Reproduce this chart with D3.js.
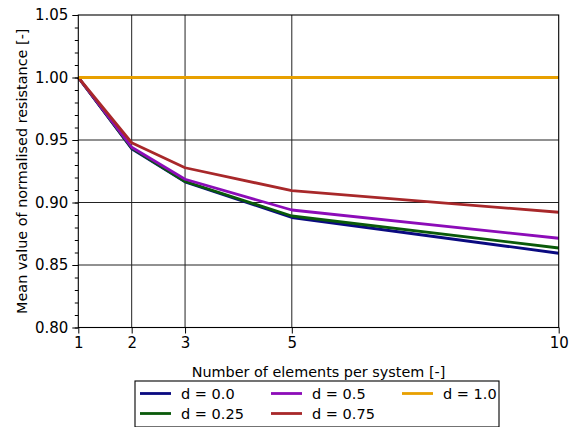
<!DOCTYPE html>
<html>
<head>
<meta charset="utf-8">
<style>
    body { margin: 0; background: #fff; }
    text { font-family: "DejaVu Sans", sans-serif; fill: #000; }
    .grid line { stroke: #222; stroke-width: 1 }
    .series { fill: none; stroke-width: 2.8; stroke-linejoin: round }
</style>
</head>
<body>
<svg id="chart" width="570" height="427"></svg>
<script src="https://cdn.jsdelivr.net/npm/d3@7"></script>
<script>
// data
let elements = [1, 2, 3, 5, 10]
let d00 = [1.0, 0.943, 0.9165, 0.888, 0.8594]
let d025 = [1.0, 0.9435, 0.9168, 0.8892, 0.8636]
let d05 = [1.0, 0.9442, 0.9186, 0.894, 0.8714]
let d075 = [1.0, 0.9478, 0.9278, 0.9095, 0.8922]
let d10 = [1.0, 1.0, 1.0, 1.0, 1.0]
let labels = ["d = 0.0", "d = 0.25", "d = 0.5", "d = 0.75", "d = 1.0"]
let colors = ["#0a0a80", "#0a5a0a", "#8c0cb8", "#a8282a", "#e8a000"]
let yTicks = [0.80, 0.85, 0.90, 0.95, 1.00, 1.05]

let allSeries = [d00, d025, d05, d075, d10]

let svg = d3.select("#chart")
let plotLeft = 78.3, plotRight = 558.7, plotTop = 15, plotBottom = 327.5

let x = d3.scaleLinear().domain([1, 10]).range([plotLeft, plotRight])
let y = d3.scaleLinear().domain([0.80, 1.05]).range([plotBottom, plotTop])

// grid
let grid = svg.append("g").attr("class", "grid")
grid.selectAll(".vx").data(elements.slice(1, -1)).enter().append("line")
    .attr("x1", d => x(d)).attr("x2", d => x(d))
    .attr("y1", plotTop).attr("y2", plotBottom)
grid.selectAll(".hy").data(yTicks.slice(1, -1)).enter().append("line")
    .attr("x1", plotLeft).attr("x2", plotRight)
    .attr("y1", d => y(d)).attr("y2", d => y(d))

// lines, drawn blue, green, purple, red, orange
let line = d3.line().x((d, i) => x(elements[i])).y(d => y(d))
svg.selectAll(".series").data(allSeries).enter().append("path")
    .attr("class", "series")
    .attr("d", line)
    .attr("stroke", (d, i) => colors[i])

// frame
svg.append("rect")
    .attr("x", plotLeft).attr("y", plotTop)
    .attr("width", plotRight - plotLeft).attr("height", plotBottom - plotTop)
    .attr("fill", "none").attr("stroke", "#000").attr("stroke-width", 1.1)

// axes
let yAxis = svg.append("g").attr("transform", "translate(" + plotLeft + ",0)")
    .call(d3.axisLeft(y).tickValues(yTicks).tickFormat(d3.format(".2f")).tickSize(6).tickPadding(4))
yAxis.append("g").call(d3.axisLeft(y).tickValues(d3.range(80, 106).map(v => v / 100)).tickFormat("").tickSize(3.5))
svg.selectAll(".domain").remove()
yAxis.selectAll("text").style("font-size", "15px").attr("fill", "#000")

let xAxis = svg.append("g").attr("transform", "translate(0," + plotBottom + ")")
    .call(d3.axisBottom(x).tickValues(elements).tickFormat(d3.format("d")).tickSize(6).tickPadding(4))
xAxis.select(".domain").remove()
xAxis.selectAll("text").style("font-size", "15px").attr("fill", "#000")

// axis titles
svg.append("text")
    .attr("x", (plotLeft + plotRight) / 2).attr("y", 377)
    .attr("text-anchor", "middle").style("font-size", "14.4px")
    .text("Number of elements per system [-]")
svg.append("text")
    .attr("transform", "translate(27," + ((plotTop + plotBottom) / 2) + ") rotate(-90)")
    .attr("text-anchor", "middle").style("font-size", "14.4px")
    .text("Mean value of normalised resistance [-]")

// legend
let legend = svg.append("g")
legend.append("rect")
    .attr("x", 135).attr("y", 381).attr("width", 364).attr("height", 46)
    .attr("fill", "#fff").attr("stroke", "#000").attr("stroke-width", 1.1)
let colX = [140, 271, 402]
let rowY = [393.5, 413.5]
let items = legend.selectAll(".item").data(labels).enter().append("g")
    .attr("transform", (d, i) => "translate(" + colX[Math.floor(i / 2)] + "," + rowY[i % 2] + ")")
items.append("line").attr("x1", 0).attr("x2", 31)
    .attr("stroke", (d, i) => colors[i]).attr("stroke-width", 2.8)
items.append("text").attr("x", 41).attr("dy", "0.35em")
    .style("font-size", "14.5px").text(d => d)
</script>
</body>
</html>
